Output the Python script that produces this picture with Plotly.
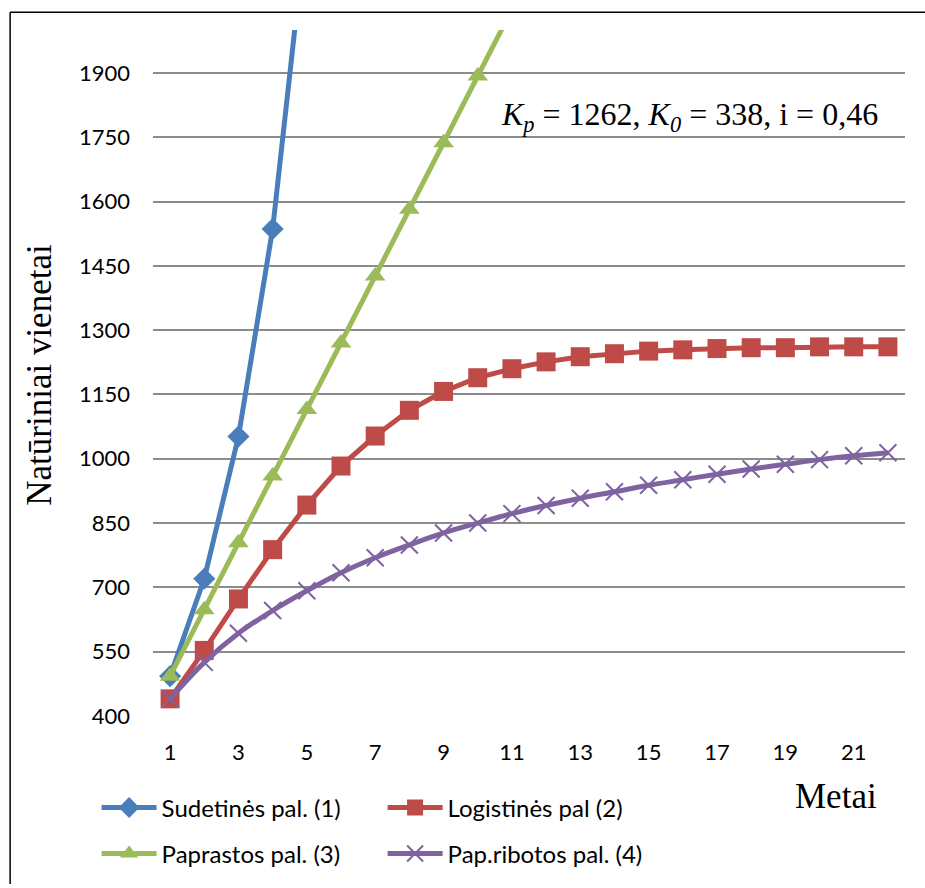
import plotly.graph_objects as go

# Years on the horizontal axis
metai = list(range(1, 23))

# Series values (natural units) per year
sudetines = [493, 720, 1052, 1536, 2255]
logistines = [440, 553, 673, 788, 892, 983, 1053, 1113, 1157, 1189, 1210, 1226,
              1238, 1245, 1251, 1254, 1257, 1259, 1259, 1261, 1261, 1261]
paprastos = [493, 648, 804, 960, 1115, 1270, 1426, 1582, 1737, 1893, 2048]
ribotos = [440, 525, 593, 646, 692, 734, 769, 799, 827, 850, 872, 891,
           908, 923, 938, 951, 964, 976, 987, 998, 1007, 1014]

x_ticks = [1, 3, 5, 7, 9, 11, 13, 15, 17, 19, 21]
y_ticks = [400, 550, 700, 850, 1000, 1150, 1300, 1450, 1600, 1750, 1900]

BLUE = "#4A7EBB"
RED = "#BE4B48"
GREEN = "#9BBB59"
PURPLE = "#7F63A1"

fig = go.Figure()
fig.add_trace(go.Scatter(
    x=metai[:len(sudetines)], y=sudetines, name="Sudetinės pal. (1)",
    mode="lines+markers", line=dict(color=BLUE, width=5),
    marker=dict(symbol="diamond", size=17, color=BLUE), legend="legend"))
fig.add_trace(go.Scatter(
    x=metai[:len(logistines)], y=logistines, name="Logistinės pal (2)",
    mode="lines+markers", line=dict(color=RED, width=5),
    marker=dict(symbol="square", size=19, color=RED), legend="legend"))
fig.add_trace(go.Scatter(
    x=metai[:len(paprastos)], y=paprastos, name="Paprastos pal. (3)",
    mode="lines+markers", line=dict(color=GREEN, width=5),
    marker=dict(symbol="triangle-up", size=18, color=GREEN), legend="legend2"))
fig.add_trace(go.Scatter(
    x=metai[:len(ribotos)], y=ribotos, name="Pap.ribotos pal. (4)",
    mode="lines+markers", line=dict(color=PURPLE, width=5, shape="spline"),
    marker=dict(symbol="x-thin", size=17, color=PURPLE,
                line=dict(color=PURPLE, width=2)), legend="legend2"))

legend_common = dict(orientation="h", xanchor="left", yanchor="middle",
                     font=dict(family="Lato", size=24, color="#000000"),
                     bgcolor="rgba(0,0,0,0)", itemwidth=55,
                     entrywidth=216, entrywidthmode="pixels")

tick_font = dict(family="Lato", size=22, color="#000000")

# Chart-area border: only the top and left edges fall inside the page
frame = dict(color="black", width=1.5)

fig.update_layout(
    width=925, height=888,
    margin=dict(l=153, r=20, t=30, b=169),
    paper_bgcolor="white", plot_bgcolor="white",
    showlegend=True,
    legend=dict(x=-0.075, y=-0.134, **legend_common),
    legend2=dict(x=-0.075, y=-0.201, **legend_common),
    xaxis=dict(range=[0.5, 22.5], tickvals=x_ticks, showgrid=False,
               zeroline=False, showline=False, ticks="",
               ticklabelstandoff=21, tickfont=tick_font),
    yaxis=dict(range=[400, 2000], tickvals=y_ticks, showgrid=True,
               gridcolor="#8C8C8C", gridwidth=2, zeroline=False,
               showline=False, ticks="", ticklen=0,
               ticklabelstandoff=22, tickfont=tick_font),
    shapes=[
        dict(type="line", xref="paper", yref="paper",
             x0=-0.190, x1=1.0266, y0=1.026, y1=1.026, line=frame, layer="below"),
        dict(type="line", xref="paper", yref="paper",
             x0=-0.190, x1=-0.190, y0=-0.245, y1=1.026, line=frame, layer="below"),
    ],
    annotations=[
        dict(text="Natūriniai vienetai", textangle=-90, xref="paper", yref="paper",
             x=-0.152, y=0.497, showarrow=False, xanchor="center", yanchor="middle",
             font=dict(family="Liberation Serif", size=35, color="#000000")),
        dict(text="Metai", xref="paper", yref="paper", x=0.908, y=-0.118,
             showarrow=False, xanchor="center", yanchor="middle",
             font=dict(family="Liberation Serif", size=35, color="#000000")),
        dict(text="<i>K</i><sub><i>p</i></sub> = 1262, <i>K</i><sub><i>0</i></sub> = 338, i = 0,46",
             xref="paper", yref="paper", x=0.714, y=0.874, showarrow=False,
             xanchor="center", yanchor="middle",
             font=dict(family="Liberation Serif", size=32, color="#000000")),
    ],
)

fig.write_html("out.html")
